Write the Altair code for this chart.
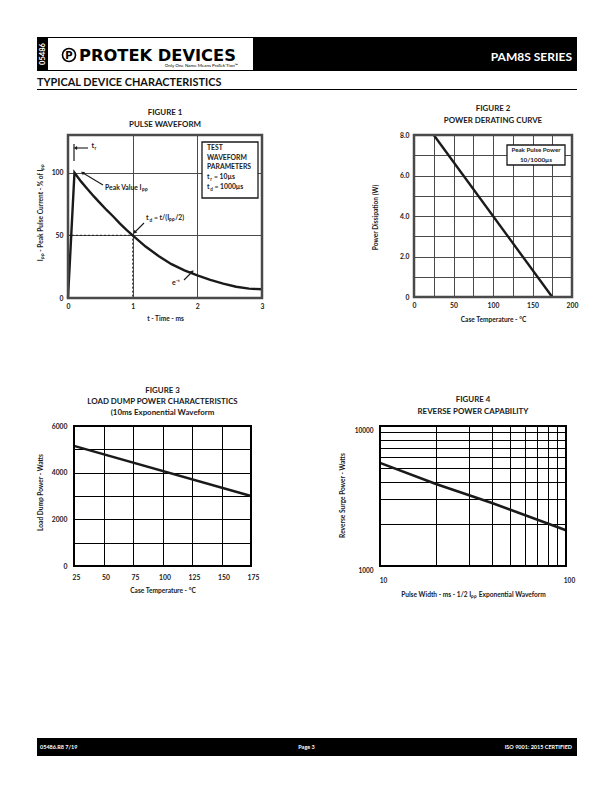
import math
import altair as alt
import pandas as pd

FONT = "Lato"
LOGO_FONT = "DejaVu Sans"
DARK = "#1a1a1a"
GREY = "#4a4a4a"

# ---------------- data ----------------
# Figure 1 - pulse waveform
fig1_t = [0.0, 0.1, 0.2, 0.3, 0.4, 0.5, 0.6, 0.7, 0.8, 0.9, 1.0, 1.2, 1.4, 1.6,
          1.8, 2.0, 2.2, 2.4, 2.6, 2.8, 3.0]
fig1_pct = [0, 100, 93, 87, 81, 75.5, 70, 65, 59.5, 54.5, 50, 41, 33.5, 27,
            22, 18, 14.5, 11.5, 9, 7.5, 7]
# dotted guide to the half-value point (t = 1 ms, 50 %)
fig1_guide_t = [0.0, 1.0, 1.0]
fig1_guide_pct = [50, 50, 0]
fig1_guide_seq = [0, 1, 2]
fig1_x_ticks = [0, 0.5, 1, 1.5, 2, 2.5, 3]
fig1_y_ticks = [0, 25, 50, 75, 100, 125]

# Figure 2 - power derating
fig2_temp = [25, 175]
fig2_power = [8.0, 0.0]
fig2_x_ticks = [0, 25, 50, 75, 100, 125, 150, 175, 200]
fig2_y_ticks = [0, 1, 2, 3, 4, 5, 6, 7, 8]

# Figure 3 - load dump power
fig3_temp = [25, 175]
fig3_power = [5150, 3000]
fig3_x_ticks = [25, 50, 75, 100, 125, 150, 175]
fig3_y_ticks = [0, 1000, 2000, 3000, 4000, 5000, 6000]

# Figure 4 - reverse power capability
fig4_width = [10, 20, 40, 100]
fig4_power = [5450, 3850, 2820, 1800]
fig4_x_ticks = [10, 20, 30, 40, 50, 60, 70, 80, 90, 100]
fig4_y_ticks = [1000, 2000, 3000, 4000, 5000, 6000, 7000, 8000, 9000, 10000]

one = pd.DataFrame({"k": [0]})


# ---------------- helpers ----------------
def txt(s, x, y, size=6.5, color=DARK, align="left", weight="bold", angle=0,
        font=FONT, baseline="middle"):
    kw = dict(text=s, fontSize=size, color=color, align=align,
              fontWeight=weight, font=font, baseline=baseline)
    if angle:
        kw["angle"] = angle
    return alt.Chart(one).mark_text(**kw).encode(x=alt.value(x), y=alt.value(y))


def box(x1, y1, x2, y2, fill, stroke=None, sw=0):
    kw = dict(fill=fill)
    if stroke:
        kw.update(stroke=stroke, strokeWidth=sw)
    return alt.Chart(one).mark_rect(**kw).encode(
        x=alt.value(x1), x2=alt.value(x2), y=alt.value(y1), y2=alt.value(y2))


def frame(x1, y1, x2, y2, stroke, sw):
    return alt.Chart(one).mark_rect(filled=False, stroke=stroke,
                                    strokeWidth=sw).encode(
        x=alt.value(x1), x2=alt.value(x2), y=alt.value(y1), y2=alt.value(y2))


def seg(x1, y1, x2, y2, color=DARK, width=1.0):
    return alt.Chart(one).mark_rule(color=color, strokeWidth=width).encode(
        x=alt.value(x1), x2=alt.value(x2), y=alt.value(y1), y2=alt.value(y2))


def arrow(x1, y1, x2, y2):
    ang = math.degrees(math.atan2(x2 - x1, -(y2 - y1))) % 360
    tip = alt.Chart(one).mark_point(shape="triangle", filled=True, color=DARK,
                                    size=16, angle=ang, opacity=1).encode(
        x=alt.value(x2), y=alt.value(y2))
    return [seg(x1, y1, x2, y2, width=1.1), tip]


def spacer(w, h):
    return alt.Chart(one).mark_point(opacity=0).encode(
        x=alt.value(0), y=alt.value(0)).properties(width=w, height=h)


def axis(values, expr, title, horizontal, tpos, label_pad, grid_color,
         label_offset=0, label_size=6.8, title_size=6.6, offset=0):
    kw = dict(values=values, labelExpr=expr, title=title, grid=True,
              gridColor=grid_color, gridWidth=1, gridOpacity=1, ticks=False,
              domain=False, labelFont=FONT, labelFontSize=label_size,
              labelFontWeight="bold", labelColor=DARK, labelPadding=label_pad,
              labelFlush=False, labelOverlap=False, titleFont=FONT,
              titleFontSize=title_size, titleFontWeight="bold",
              titleColor=DARK, titleBaseline="middle", titleAlign="center",
              titleX=tpos[0], titleY=tpos[1])
    if not horizontal:
        kw["titleAngle"] = 270
    if label_offset:
        kw["labelOffset"] = label_offset
    if offset:
        kw["offset"] = offset
    return alt.Axis(**kw)


def titles(lines, cx, ys):
    return [txt(s, cx, y, size=7.9, align="center") for s, y in zip(lines, ys)]


# ---------------- header (drawn from a 1px cell, overflowing) ----------------
header = alt.layer(
    box(0, 0, 540, 34, "black"),
    box(11, 1, 216, 33, "white"),
    txt("05486", 5.5, 17, size=7.5, color="white", angle=270, align="center"),
    alt.Chart(one).mark_point(shape="circle", size=170, stroke="black",
                              strokeWidth=1.6, fill="white", filled=False,
                              opacity=1).encode(x=alt.value(32), y=alt.value(18)),
    txt("P", 32, 18.5, size=10, color="black", align="center", font=LOGO_FONT),
    txt("PROTEK DEVICES", 42, 18.5, size=16.3, color="black", font=LOGO_FONT),
    txt("Only One Name Means ProTek'Tion\u2122", 201, 29, size=4.5,
        color="black", align="right", weight="normal"),
    txt("PAM8S SERIES", 535, 20, size=12, color="white", align="right"),
    txt("TYPICAL DEVICE CHARACTERISTICS", 0, 45.5, size=10.9, color="#111"),
    seg(0, 52.5, 540, 52.5, color="black", width=1),
).properties(width=1, height=98)

# ---------------- figure 1 ----------------
D1, W1, H1 = 31, 194, 163
df1 = pd.DataFrame({"t": fig1_t, "pct": fig1_pct})
guide = pd.DataFrame({"t": fig1_guide_t, "pct": fig1_guide_pct,
                      "seq": fig1_guide_seq})
xs1 = alt.Scale(domain=[0, 3], range=[D1, D1 + W1])
ys1 = alt.Scale(domain=[0, 126])
line1 = alt.Chart(df1).mark_line(color=DARK, strokeWidth=2.4).encode(
    x=alt.X("t:Q", scale=xs1,
            axis=axis(fig1_x_ticks,
                      "datum.value % 1 == 0 ? format(datum.value, 'd') : ''",
                      "t - Time - ms", True, (D1 + W1 / 2, 20), 5.5, GREY)),
    y=alt.Y("pct:Q", scale=ys1,
            axis=axis(fig1_y_ticks, "datum.value % 50 == 0 ? datum.label : ''",
                      "I\u209a\u209a - Peak Pulse Current - % of I\u209a\u209a",
                      False, (-28, 77), 5, GREY, offset=-D1)),
)
guide_line = alt.Chart(guide).mark_line(color=DARK, strokeWidth=0.9,
                                        strokeDash=[2, 2]).encode(
    x="t:Q", y="pct:Q", order="seq:Q")


def a1(x1, y1, x2, y2):
    return arrow(x1 + D1, y1, x2 + D1, y2)


def t1(s, x, y, **kw):
    return txt(s, x + D1, y, **kw)


fig1_layers = [line1, guide_line,
               seg(D1 + 6, 9, D1 + 6, 26, width=1.2),
               *a1(20, 13, 8, 13),
               t1("t", 23.5, 11, size=7.2),
               t1("r", 26.5, 13.5, size=4.8),
               *a1(35, 50, 15, 38),
               t1("Peak Value I\u209a\u209a", 37, 53, size=6.8),
               *a1(76, 88, 67, 97),
               t1("t", 78, 83, size=7),
               t1("d", 81.5, 85.5, size=4.8),
               t1("= t/(I\u209a\u209a/2)", 86, 83, size=6.8),
               *a1(116, 145, 124, 137),
               t1("e\u207b\u1d57", 104, 148, size=7),
               box(D1 + 134, 7, D1 + 190, 63, "white", stroke=DARK, sw=1.3),
               t1("TEST", 139, 13, size=6.8),
               t1("WAVEFORM", 139, 22.5, size=6.8),
               t1("PARAMETERS", 139, 32, size=6.8),
               t1("t", 139, 42, size=6.8),
               t1("r", 142.3, 44.5, size=4.6),
               t1("= 10\u00b5s", 146, 42, size=6.8),
               t1("t", 139, 52, size=6.8),
               t1("d", 142.3, 54.5, size=4.6),
               t1("= 1000\u00b5s", 146.5, 52, size=6.8),
               frame(D1, 0, D1 + W1, H1, GREY, 2.5),
               *titles(["FIGURE 1", "PULSE WAVEFORM"], D1 + W1 / 2, [-22, -10])]
fig1 = alt.layer(*fig1_layers).properties(width=D1 + W1, height=H1)

# ---------------- figure 2 ----------------
D2, W2, H2 = 152, 158, 162
df2 = pd.DataFrame({"temp": fig2_temp, "power": fig2_power})
line2 = alt.Chart(df2).mark_line(color=DARK, strokeWidth=2.4).encode(
    x=alt.X("temp:Q", scale=alt.Scale(domain=[0, 200], range=[D2, D2 + W2]),
            axis=axis(fig2_x_ticks, "datum.value % 50 == 0 ? datum.label : ''",
                      "Case Temperature - \u00b0C", True, (D2 + W2 / 2, 22),
                      5.5, GREY)),
    y=alt.Y("power:Q", scale=alt.Scale(domain=[0, 8]),
            axis=axis(fig2_y_ticks,
                      "datum.value == 0 ? '0' : (datum.value % 2 == 0 ? format(datum.value, '.1f') : '')",
                      "Power Dissipation (W)", False, (-39, 82), 5, GREY,
                      offset=-D2)),
)
fig2 = alt.layer(
    line2,
    box(D2 + 93, 10, D2 + 151, 30, "white", stroke=DARK, sw=1.3),
    txt("Peak Pulse Power", D2 + 122, 15, size=6.2, align="center"),
    txt("10/1000\u00b5s", D2 + 122, 24.5, size=6.4, align="center"),
    frame(D2, 0, D2 + W2, H2, GREY, 2.5),
    *titles(["FIGURE 2", "POWER DERATING CURVE"], D2 + W2 / 2, [-26, -14]),
).properties(width=D2 + W2, height=H2)

# ---------------- figure 3 ----------------
D3, W3, H3 = 37, 177, 140
df3 = pd.DataFrame({"temp": fig3_temp, "power": fig3_power})
line3 = alt.Chart(df3).mark_line(color=DARK, strokeWidth=2.4).encode(
    x=alt.X("temp:Q", scale=alt.Scale(domain=[25, 175], range=[D3, D3 + W3]),
            axis=axis(fig3_x_ticks, "datum.label",
                      "Case Temperature - \u00b0C", True, (D3 + W3 / 2, 24), 8.5,
                      "black", label_offset=2)),
    y=alt.Y("power:Q", scale=alt.Scale(domain=[0, 6000]),
            axis=axis(fig3_y_ticks,
                      "datum.value % 2000 == 0 ? format(datum.value, 'd') : ''",
                      "Load Dump Power - Watts", False, (-34, 66), 7, "black",
                      offset=-D3)),
)
fig3 = alt.layer(
    line3,
    frame(D3, 0, D3 + W3, H3, "black", 2),
    *titles(["FIGURE 3", "LOAD DUMP POWER CHARACTERISTICS",
             "(10ms Exponential Waveform"], D3 + W3 / 2, [-35, -24, -13]),
).properties(width=D3 + W3, height=H3)

# ---------------- figure 4 ----------------
D4, W4, H4 = 118, 186, 140
df4 = pd.DataFrame({"pw": fig4_width, "power": fig4_power})
line4 = alt.Chart(df4).mark_line(color=DARK, strokeWidth=2.6).encode(
    x=alt.X("pw:Q", scale=alt.Scale(type="log", domain=[10, 100],
                                    range=[D4, D4 + W4]),
            axis=axis(fig4_x_ticks,
                      "datum.value == 10 || datum.value == 100 ? format(datum.value, 'd') : ''",
                      "Pulse Width - ms - 1/2 I\u209a\u209a Exponential Waveform",
                      True, (D4 + W4 / 2, 28), 11.5, "black", label_offset=3,
                      label_size=6.5)),
    y=alt.Y("power:Q", scale=alt.Scale(type="log", domain=[1000, 10000]),
            axis=axis(fig4_y_ticks,
                      "datum.value == 1000 || datum.value == 10000 ? format(datum.value, 'd') : ''",
                      "Reverse Surge Power - Watts", False, (-38, 69), 7,
                      "black", label_offset=4, label_size=6.5, offset=-D4)),
)
fig4 = alt.layer(
    line4,
    frame(D4, 0, D4 + W4, H4, "black", 2),
    *titles(["FIGURE 4", "REVERSE POWER CAPABILITY"], D4 + W4 / 2, [-26, -14]),
).properties(width=D4 + W4, height=H4)

# ---------------- footer (drawn from a 1px cell, overflowing) ----------------
footer = alt.layer(
    box(0, 0, 540, 18, "black"),
    txt("05486.R8 7/19", 3, 9, size=5.5, color="white"),
    txt("Page 3", 269.5, 9, size=5.5, color="white", align="center"),
    txt("ISO 9001: 2015 CERTIFIED", 535, 9, size=5.5, color="white", align="right"),
).properties(width=1, height=18)

cells = [header, spacer(1, 1),
         fig1, fig2,
         spacer(1, 128), spacer(1, 1),
         fig3, fig4,
         spacer(1, 172), spacer(1, 1),
         footer, spacer(1, 1)]

chart = alt.concat(*cells, columns=2, spacing=0, bounds="flush").properties(
    padding={"left": 25, "top": 25, "right": 0, "bottom": 0},
    background="white",
).configure_view(stroke="transparent")

chart.save("out.html", embed_options={"renderer": "svg", "actions": False})
